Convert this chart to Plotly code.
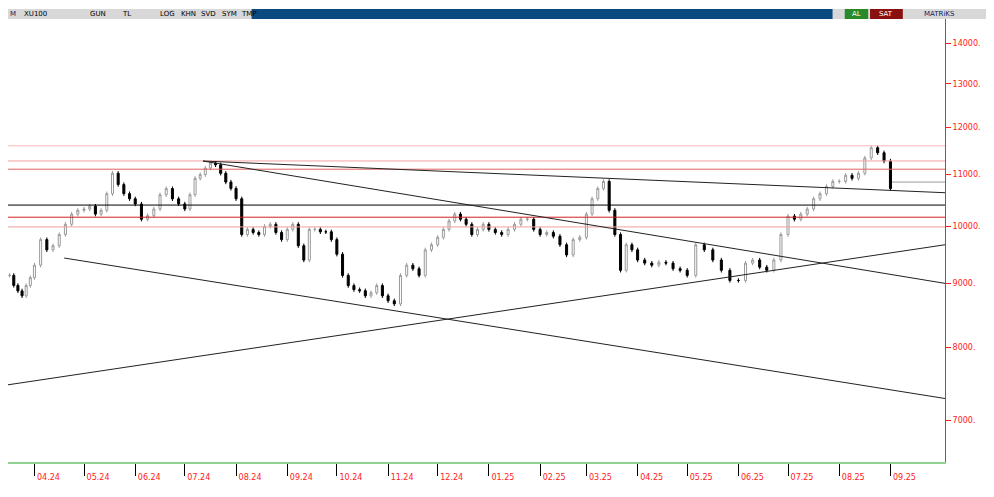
import plotly.graph_objects as go
import pandas as pd

closes_by_month = [
    [9137, 8970, 8880, 8800, 8967, 9100],
    [9311, 9759, 9577, 9650, 9851, 10038, 10228, 10300],
    [10325, 10380, 10228, 10300, 10620, 11027, 10800, 10620, 10521],
    [10420, 10132, 10200, 10325, 10600, 10720, 10520, 10422],
    [10325, 10600, 10924, 11000, 11133, 11236, 11200, 11027, 10850, 10724],
    [10521, 9851, 9944, 9888, 9851, 10000, 10038, 9888, 9759],
    [9944, 10038, 9650, 9399, 9944, 9944, 9900, 9900, 9759],
    [9500, 9137, 8967, 8900, 8883, 8800, 8850, 8967, 8800],
    [8720, 8670, 9137, 9311, 9250, 9137, 9577, 9667],
    [9800, 9944, 10100, 10228, 10132, 10038, 9851, 9944, 10038],
    [9944, 9888, 9851, 9944, 10038, 10132, 10132, 9944],
    [9851, 9888, 9820, 9667, 9487, 9759, 9800],
    [10228, 10521, 10720, 10863, 10300, 9851, 9223, 9667, 9577],
    [9399, 9346, 9311, 9360, 9346, 9250, 9223],
    [9137, 9667, 9577, 9399, 9223, 9052],
    [9052, 9346, 9399, 9277, 9223, 9399, 9851],
    [10190, 10132, 10228, 10325, 10521, 10620, 10761, 10863],
    [10863, 10986, 10924, 11027, 11343, 11558, 11451, 11278],
    [10720],
]
month_starts = ["2024-03-17", "2024-04-01", "2024-05-01", "2024-06-01", "2024-07-01",
                "2024-08-01", "2024-09-01", "2024-10-01", "2024-11-01", "2024-12-01",
                "2025-01-01", "2025-02-01", "2025-03-01", "2025-04-01", "2025-05-01",
                "2025-06-01", "2025-07-01", "2025-08-01", "2025-09-01", "2025-10-01"]

hlines = [(11600, "#f8b8b8"), (11280, "#f4a0a0"), (11110, "#e06060"),
          (10400, "#000000"), (10170, "#d02020"), (9990, "#f0a0a0")]
trend_lines = [
    (["2024-07-12", "2025-10-04"], [11278, 10639]),
    (["2024-07-12", "2025-10-04"], [11278, 9004]),
    (["2024-04-19", "2025-10-04"], [9434, 7284]),
    (["2024-03-16", "2025-10-04"], [7470, 9667]),
]
month_labels = ["04.24", "05.24", "06.24", "07.24", "08.24", "09.24", "10.24", "11.24",
                "12.24", "01.25", "02.25", "03.25", "04.25", "05.25", "06.25", "07.25",
                "08.25", "09.25"]
y_ticks = [7000, 8000, 9000, 10000, 11000, 12000, 13000, 14000]

dates, closes = [], []
for i, vals in enumerate(closes_by_month):
    s = pd.Timestamp(month_starts[i]); e = pd.Timestamp(month_starts[i + 1])
    span = (e - s) if i < len(closes_by_month) - 1 else pd.Timedelta(days=2)
    for j, v in enumerate(vals):
        dates.append(s + span * (j / len(vals)))
        closes.append(v)
opens = [closes[0]] + closes[:-1]
highs = [max(o, c) * 1.004 for o, c in zip(opens, closes)]
lows = [min(o, c) * 0.996 for o, c in zip(opens, closes)]

fig = go.Figure()
for val, col in hlines:
    fig.add_trace(go.Scatter(x=["2024-03-01", "2025-10-10"], y=[val, val], mode="lines",
                             line=dict(color=col, width=1), hoverinfo="skip", showlegend=False))
for xs, ys in trend_lines:
    fig.add_trace(go.Scatter(x=xs, y=ys, mode="lines", line=dict(color="#222", width=1),
                             hoverinfo="skip", showlegend=False))
fig.add_trace(go.Scatter(x=["2025-09-02", "2025-10-10"], y=[10850, 10850], mode="lines",
                         line=dict(color="#999", width=1), showlegend=False))
fig.add_trace(go.Candlestick(x=dates, open=opens, high=highs, low=lows, close=closes,
                             increasing=dict(line=dict(color="#9a9a9a", width=1), fillcolor="#ffffff"),
                             decreasing=dict(line=dict(color="#000000", width=1), fillcolor="#000000"),
                             whiskerwidth=0, showlegend=False))

fig.update_layout(
    width=986, height=489, margin=dict(l=0, r=49, t=4, b=35, autoexpand=False),
    paper_bgcolor="white", plot_bgcolor="white",
    font=dict(family="DejaVu Sans", size=8, color="#ff2020"),
    xaxis=dict(range=["2024-03-16", "2025-10-04"], tickvals=month_starts[1:-1], ticktext=month_labels,
               rangeslider=dict(visible=False), showgrid=False, ticks="outside", ticklen=12,
               tickcolor="#000", showline=True, linecolor="#90d090", linewidth=2,
               ticklabelshift=14, ticklabelstandoff=-6,
               tickfont=dict(color="#ff2020", size=8)),
    yaxis=dict(type="log", side="right", range=[3.8116, 4.1714], tickvals=y_ticks,
               ticktext=[f"{v}." for v in y_ticks], showgrid=False, ticks="outside",
               ticklen=5, tickcolor="#ff2020", showline=True, linecolor="#ff2020",
               tickfont=dict(color="#ff2020", size=8)),
)
ty0, ty1 = 1.0 - 7 / 450, 1.0 + 3 / 450
fig.add_shape(type="rect", xref="paper", yref="paper", x0=0, x1=1.06, y0=ty0, y1=ty1,
              fillcolor="#d8d8d8", line=dict(width=0))
fig.add_shape(type="rect", xref="paper", yref="paper", x0=0.26, x1=0.88, y0=ty0, y1=ty1,
              fillcolor="#0a4a80", line=dict(width=0))
fig.add_shape(type="rect", xref="paper", yref="paper", x0=0.893, x1=0.918, y0=ty0, y1=ty1,
              fillcolor="#2a8a2a", line=dict(width=0))
fig.add_shape(type="rect", xref="paper", yref="paper", x0=0.92, x1=0.955, y0=ty0, y1=ty1,
              fillcolor="#8a1010", line=dict(width=0))
for txt, xp, col in [("M", 0.0, "#102060"), ("XU100", 0.015, "#000"), ("GUN", 0.085, "#000"),
                     ("TL", 0.12, "#000"), ("LOG", 0.16, "#000"), ("KHN", 0.182, "#000"),
                     ("SVD", 0.204, "#000"), ("SYM", 0.226, "#000"), ("TMP", 0.246, "#000"),
                     ("AL", 0.899, "#fff"), ("SAT", 0.927, "#fff"), ("MATRiKS", 0.975, "#102060")]:
    fig.add_annotation(text=txt, xref="paper", yref="paper", x=xp, y=(ty0 + ty1) / 2, xanchor="left",
                       yanchor="middle", showarrow=False, font=dict(size=7, color=col))
fig.write_html("out.html")
